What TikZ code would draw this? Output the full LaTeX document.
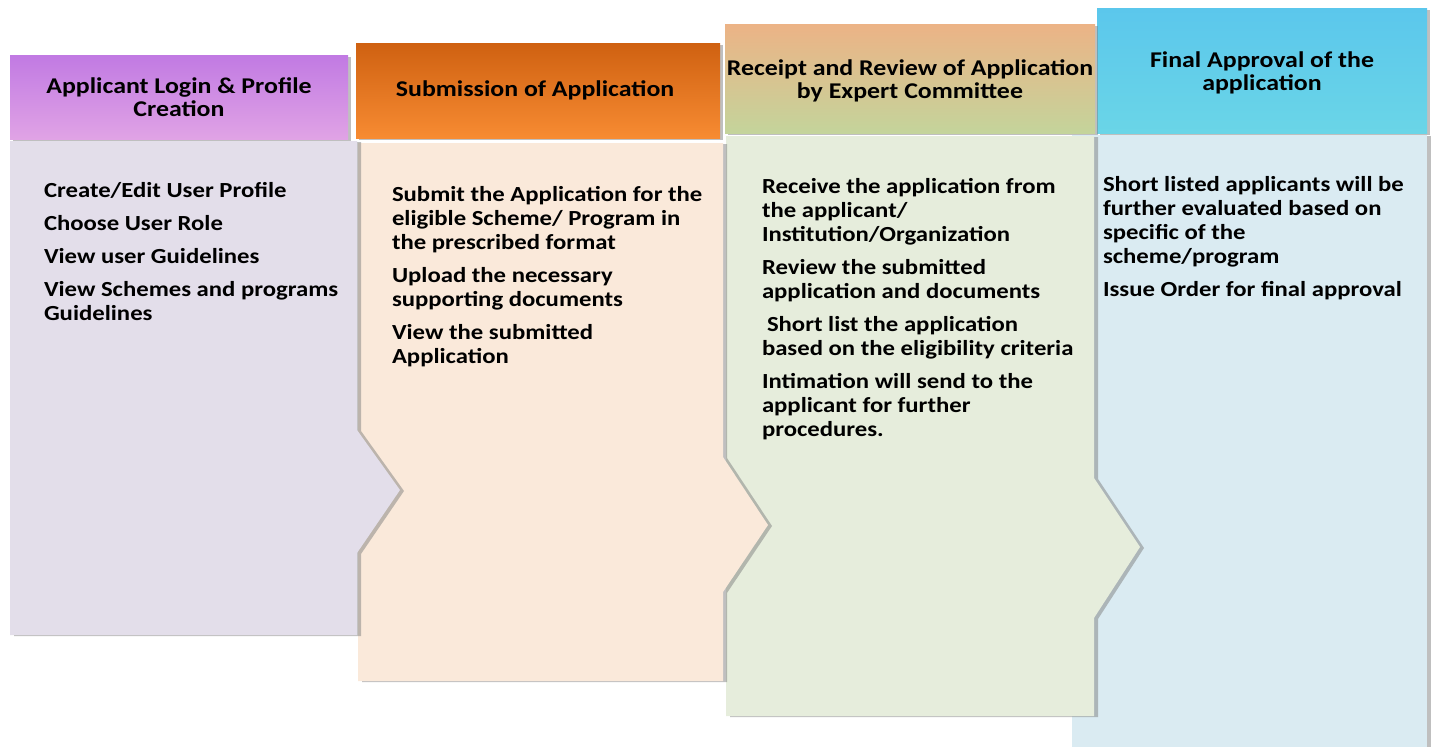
\documentclass[tikz,border=0pt]{standalone}
\usepackage{fontspec}
\setmainfont[FakeStretch=1.15]{Carlito}
\usetikzlibrary{shadows}
\usetikzlibrary{positioning}
\definecolor{loginTop}{HTML}{C17AE3}
\definecolor{loginBot}{HTML}{E0A3E5}
\definecolor{loginBody}{HTML}{E3DEEA}
\definecolor{submitTop}{HTML}{CF6111}
\definecolor{submitBot}{HTML}{F78B32}
\definecolor{submitBody}{HTML}{FAE9DA}
\definecolor{reviewTop}{HTML}{ECB386}
\definecolor{reviewBot}{HTML}{C4D49B}
\definecolor{reviewBody}{HTML}{E6EDDC}
\definecolor{approveTop}{HTML}{5BC7EC}
\definecolor{approveBot}{HTML}{6AD5E7}
\definecolor{approveBody}{HTML}{DAEBF2}
\tikzstyle{head} = [
    rectangle, inner sep=0pt, align=center, font=\fontsize{22.5}{23.5}\selectfont\bfseries,
    drop shadow={shadow xshift=3pt, shadow yshift=-2pt, opacity=0.5}]
\tikzstyle{stage} = [drop shadow={shadow xshift=4pt, shadow yshift=-1pt, opacity=0.5}]
\tikzstyle{items} = [
    inner sep=0pt, anchor=north west, align=left, font=\fontsize{21.5}{24}\selectfont\bfseries]

\begin{document}
\begin{tikzpicture}[x=1pt, y=-1pt]
\useasboundingbox (0,0) rectangle (1433,747);

% stage bodies, last one first so each arrow lies on the next body
\fill [approveBody, stage] (1072,135) -- (1427,135) -- (1427,747) -- (1072,747) -- cycle;
\fill [reviewBody, stage] (726,136) -- (1094,136) -- (1094,478) -- (1140,547)
    -- (1094,618) -- (1094,716) -- (726,716) -- cycle;
\fill [submitBody, stage] (358,143) -- (723,143) -- (723,457) -- (768,525)
    -- (723,592) -- (723,681) -- (358,681) -- cycle;
\fill [loginBody, stage] (10,141) -- (357,141) -- (357,430) -- (400,490)
    -- (357,553) -- (357,635) -- (10,635) -- cycle;

\node (head-approve) [head, minimum width=330pt, minimum height=125pt,
    top color=approveTop, bottom color=approveBot] at (1262,70.5) {
    \\[-2.5pt]
    Final Approval of the \\
    application
};
\node (head-review) [head, minimum width=370pt, minimum height=109pt,
    top color=reviewTop, bottom color=reviewBot] at (910,78.5) {
    \\[-2.5pt]
    Receipt and Review of Application \\
    by Expert Committee
};
\node (head-submit) [head, minimum width=364pt, minimum height=95pt,
    top color=submitTop, bottom color=submitBot] at (538,90.5) {
    Submission of Application
};
\node (head-login) [head, minimum width=338pt, minimum height=84pt,
    top color=loginTop, bottom color=loginBot] at (179,97) {
    Applicant Login \& Profile \\
    Creation
};

\node (list-login) [items, below right=43pt and 34pt of head-login.south west] {
    Create/Edit User Profile \\[9pt]
    Choose User Role \\[9pt]
    View user Guidelines \\[9pt]
    View Schemes and programs \\
    Guidelines
};

\node (list-submit) [items, below right=48pt and 36pt of head-submit.south west] {
    Submit the Application for the \\
    eligible Scheme/ Program in \\
    the prescribed format \\[9pt]
    Upload the necessary \\
    supporting documents \\[9pt]
    View the submitted \\
    Application
};

\node (list-review) [items, below right=45pt and 37pt of head-review.south west] {
    Receive the application from \\
    the applicant/ \\
    Institution/Organization \\[9pt]
    Review the submitted \\
    application and documents \\[9pt]
    \hspace{5pt}Short list the application \\
    based on the eligibility criteria \\[9pt]
    Intimation will send to the \\
    applicant for further \\
    procedures.
};

\node (list-approve) [items, below right=43pt and 6pt of head-approve.south west] {
    Short listed applicants will be \\
    further evaluated based on \\
    specific of the \\
    scheme/program \\[9pt]
    Issue Order for final approval
};
\end{tikzpicture}
\end{document}
